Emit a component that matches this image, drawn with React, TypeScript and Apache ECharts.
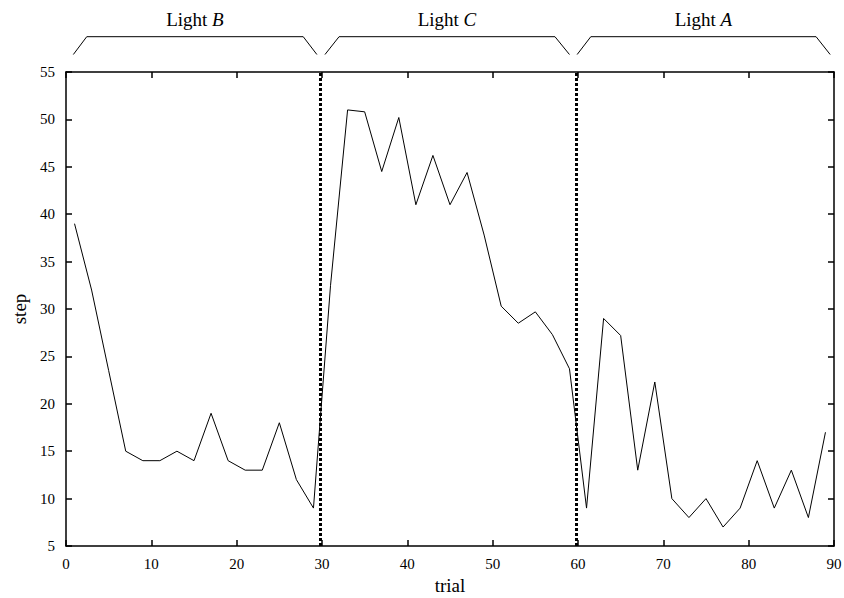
import React, { useEffect, useRef } from "react";
import * as echarts from "echarts";

const trials = [1, 3, 5, 7, 9, 11, 13, 15, 17, 19, 21, 23, 25, 27, 29, 31, 33, 35, 37, 39, 41, 43, 45, 47, 49, 51, 53, 55, 57, 59, 61, 63, 65, 67, 69, 71, 73, 75, 77, 79, 81, 83, 85, 87, 89];
const steps = [39, 32, 23.5, 15, 14, 14, 15, 14, 19, 14, 13, 13, 18, 12, 9, 32.5, 51, 50.8, 44.5, 50.2, 41, 46.2, 41, 44.4, 37.8, 30.3, 28.5, 29.7, 27.3, 23.7, 9, 29, 27.2, 13, 22.3, 10, 8, 10, 7, 9, 14, 9, 13, 8, 17];
const phaseBoundaries = [29.85, 59.85];
const phaseLabels = ["Light {i|B}", "Light {i|C}", "Light {i|A}"];
// bracket extents in trial units: [footLeft, cornerLeft, cornerRight, footRight]
const phaseBrackets = [
  [0.86, 2.43, 27.8, 29.4],
  [30.35, 32.0, 57.3, 59.0],
  [59.9, 61.5, 87.9, 89.55],
];

const FONT = "Liberation Serif";

export default function App() {
  const ref = useRef<HTMLDivElement>(null);
  useEffect(() => {
    if (!ref.current) return;
    const chart = echarts.init(ref.current, undefined, { renderer: "svg" });
    const gridLeft = 66, gridRight = 10, gridTop = 72, gridBottom = 52;
    const W = 844;
    const plotW = W - gridLeft - gridRight;
    const toX = (t: number) => gridLeft + (t / 90) * plotW;
    const footY = 54.5, topY = 36.7;
    const graphics: any[] = [];
    phaseBrackets.forEach((b, i) => {
      graphics.push({
        type: "polyline",
        silent: true,
        shape: { points: [[toX(b[0]), footY], [toX(b[1]), topY], [toX(b[2]), topY], [toX(b[3]), footY]] },
        style: { stroke: "#000", lineWidth: 1, fill: null },
      });
      graphics.push({
        type: "text",
        silent: true,
        x: (toX(b[1]) + toX(b[2])) / 2,
        y: 19,
        style: {
          text: phaseLabels[i],
          font: `19px "${FONT}"`,
          fill: "#000",
          align: "center",
          verticalAlign: "middle",
          rich: { i: { fontStyle: "italic", fontFamily: FONT, fontSize: 19, fill: "#000" } },
        },
      });
    });
    const axisCommon = {
      type: "value" as const,
      axisLine: { show: true, onZero: false, lineStyle: { color: "#000", width: 1.5 } },
      axisTick: { show: true, inside: true, length: 6, lineStyle: { color: "#000", width: 1.5 } },
      splitLine: { show: false },
    };
    chart.setOption({
      animation: false,
      backgroundColor: "#fff",
      grid: {
        left: gridLeft, right: gridRight, top: gridTop, bottom: gridBottom,
        containLabel: false, outerBoundsMode: "none",
      },
      xAxis: [
        {
          ...axisCommon,
          min: 0, max: 90, interval: 10,
          name: "trial", nameLocation: "middle", nameGap: 30,
          nameMoveOverlap: false,
          nameTextStyle: { fontFamily: FONT, fontSize: 19, color: "#000", lineHeight: 19 },
          axisLabel: { fontFamily: FONT, fontSize: 15, color: "#000", margin: 10 },
        },
        {
          ...axisCommon,
          position: "top",
          min: 0, max: 90, interval: 10,
          axisLabel: { show: false },
        },
      ],
      yAxis: [
        {
          ...axisCommon,
          min: 5, max: 55, interval: 5,
          name: "step", nameLocation: "middle", nameGap: 37, nameRotate: 90,
          nameMoveOverlap: false,
          nameTextStyle: { fontFamily: FONT, fontSize: 19, color: "#000", lineHeight: 19 },
          axisLabel: { fontFamily: FONT, fontSize: 15, color: "#000", margin: 11 },
        },
        {
          ...axisCommon,
          position: "right",
          min: 5, max: 55, interval: 5,
          axisLabel: { show: false },
        },
      ],
      series: [
        {
          type: "line",
          data: trials.map((t, i) => [t, steps[i]]),
          showSymbol: false,
          symbol: "none",
          lineStyle: { color: "#000", width: 1 },
          z: 3,
          markLine: {
            silent: true,
            symbol: ["none", "none"],
            label: { show: false },
            lineStyle: { color: "#000", width: 3, type: [3, 2] },
            data: phaseBoundaries.map((x) => ({ xAxis: x })),
          },
        },
      ],
      graphic: graphics,
    });
    return () => chart.dispose();
  }, []);
  return <div ref={ref} style={{ width: 844, height: 598, position: "absolute", left: 0, top: 0 }} />;
}
